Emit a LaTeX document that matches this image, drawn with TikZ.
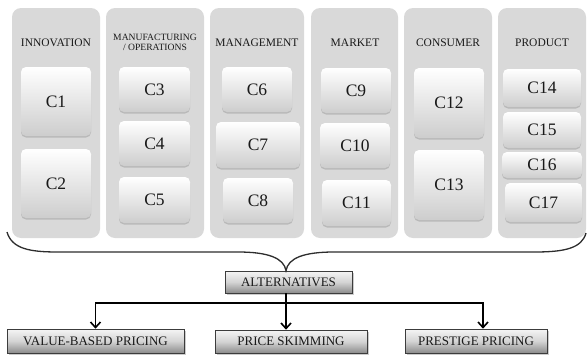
\documentclass[tikz,border=0pt]{standalone}
\usepackage{fontspec}
\setmainfont{Liberation Serif}
\usetikzlibrary{shadows,arrows.meta}
\definecolor{colgray}{RGB}{217,217,217}
\definecolor{txt}{RGB}{25,25,25}
\tikzset{
  column/.style={fill=colgray, rounded corners=9pt, inner sep=0pt},
  cbox/.style={rounded corners=5pt, top color=white, bottom color={rgb,255:red,205;green,205;blue,205},
     drop shadow={opacity=0.35, shadow xshift=0pt, shadow yshift=-1.5pt},
     inner sep=0pt, font=\fontsize{17.5}{17.5}\selectfont, text=txt},
  hdr/.style={font=\fontsize{11.5}{12}\selectfont, text=txt, align=center, inner sep=0pt},
  pbox/.style={draw={rgb,255:red,60;green,60;blue,60}, line width=0.6pt, top color={rgb,255:red,245;green,245;blue,245},
     bottom color={rgb,255:red,140;green,140;blue,140}, middle color={rgb,255:red,212;green,212;blue,212},
     drop shadow={opacity=0.4, shadow xshift=1.5pt, shadow yshift=-1.5pt},
     inner sep=0pt, font=\fontsize{13}{13}\selectfont, text=txt},
  arr/.style={line width=1.8pt, -{Straight Barb[length=5.5pt,width=10pt,line width=1.6pt]}},
  bus/.style={line width=1.8pt},
}
\begin{document}
\begin{tikzpicture}[x=1pt,y=-1pt]
\useasboundingbox (0,0) rectangle (588,356);
% columns
\node[column, minimum width=88pt, minimum height=230pt] (col1) at (56,123) {};
\node[column, minimum width=98pt, minimum height=230pt] (col2) at (155,123) {};
\node[column, minimum width=94pt, minimum height=230pt] (col3) at (257,123) {};
\node[column, minimum width=87pt, minimum height=230pt] (col4) at (354.5,123) {};
\node[column, minimum width=88pt, minimum height=230pt] (col5) at (448,123) {};
\node[column, minimum width=88pt, minimum height=230pt] (col6) at (542,123) {};
% headers
\node[hdr] (h1) at (56,43) {INNOVATION};
\node[hdr, font=\fontsize{9.6}{10.5}\selectfont] (h2) at (155,42.5) {MANUFACTURING\\/ OPERATIONS};
\node[hdr] (h3) at (257,43) {MANAGEMENT};
\node[hdr] (h4) at (355,43) {MARKET};
\node[hdr] (h5) at (448,43) {CONSUMER};
\node[hdr] (h6) at (542,43) {PRODUCT};
% boxes
\node[cbox, minimum width=70pt, minimum height=69pt] (c1) at (56,101.5) {C1};
\node[cbox, minimum width=70pt, minimum height=69pt] (c2) at (56,183.5) {C2};
\node[cbox, minimum width=71pt, minimum height=45pt] (c3) at (154.5,89.5) {C3};
\node[cbox, minimum width=71pt, minimum height=45pt] (c4) at (154.5,143.5) {C4};
\node[cbox, minimum width=71pt, minimum height=46pt] (c5) at (154.5,200) {C5};
\node[cbox, minimum width=70pt, minimum height=45pt] (c6) at (257,89.5) {C6};
\node[cbox, minimum width=84pt, minimum height=46pt] (c7) at (258,145) {C7};
\node[cbox, minimum width=70pt, minimum height=45pt] (c8) at (258,200.5) {C8};
\node[cbox, minimum width=70pt, minimum height=45pt] (c9) at (356,90.5) {C9};
\node[cbox, minimum width=70pt, minimum height=45pt] (c10) at (355,145.5) {C10};
\node[cbox, minimum width=69pt, minimum height=46pt] (c11) at (356.5,203) {C11};
\node[cbox, minimum width=70pt, minimum height=70pt] (c12) at (449,103) {C12};
\node[cbox, minimum width=70pt, minimum height=70pt] (c13) at (449,185) {C13};
\node[cbox, minimum width=78pt, minimum height=38pt] (c14) at (542,88) {C14};
\node[cbox, minimum width=78pt, minimum height=36pt] (c15) at (542,130) {C15};
\node[cbox, minimum width=80pt, minimum height=26pt] (c16) at (542,165) {C16};
\node[cbox, minimum width=77pt, minimum height=39pt] (c17) at (543.5,202.5) {C17};
% bottom boxes
\node[pbox, minimum width=127pt, minimum height=22pt] (alt) at (288.5,282) {ALTERNATIVES};
\node[pbox, minimum width=177pt, minimum height=24pt] (value) at (95.5,341) {VALUE-BASED PRICING};
\node[pbox, minimum width=152pt, minimum height=23pt] (price) at (291,341.5) {PRICE SKIMMING};
\node[pbox, minimum width=142pt, minimum height=24pt] (prestige) at (476,341) {PRESTIGE PRICING};
% brace
\coordinate (bl) at (7,232);
\coordinate (br) at (586,233);
\draw[line width=1.3pt, draw={rgb,255:red,45;green,45;blue,45}]
  (bl) .. controls (12,249) and (30,252) .. (58,252) -- (238,252)
  .. controls (268,252) and (284,258) .. (alt.north -| 286,0)
  .. controls (288,258) and (304,252) .. (334,252) -- (535,252)
  .. controls (565,252) and (582,248) .. (br);
% connectors
\coordinate (bus) at (286,303);
\draw[bus] (alt.south -| bus) -- (bus);
\draw[arr] (bus) -- (price.north -| bus);
\draw[arr] (bus) -| (value.north);
\draw[arr] (bus) -| ([xshift=7pt]prestige.north);
\end{tikzpicture}
\end{document}
